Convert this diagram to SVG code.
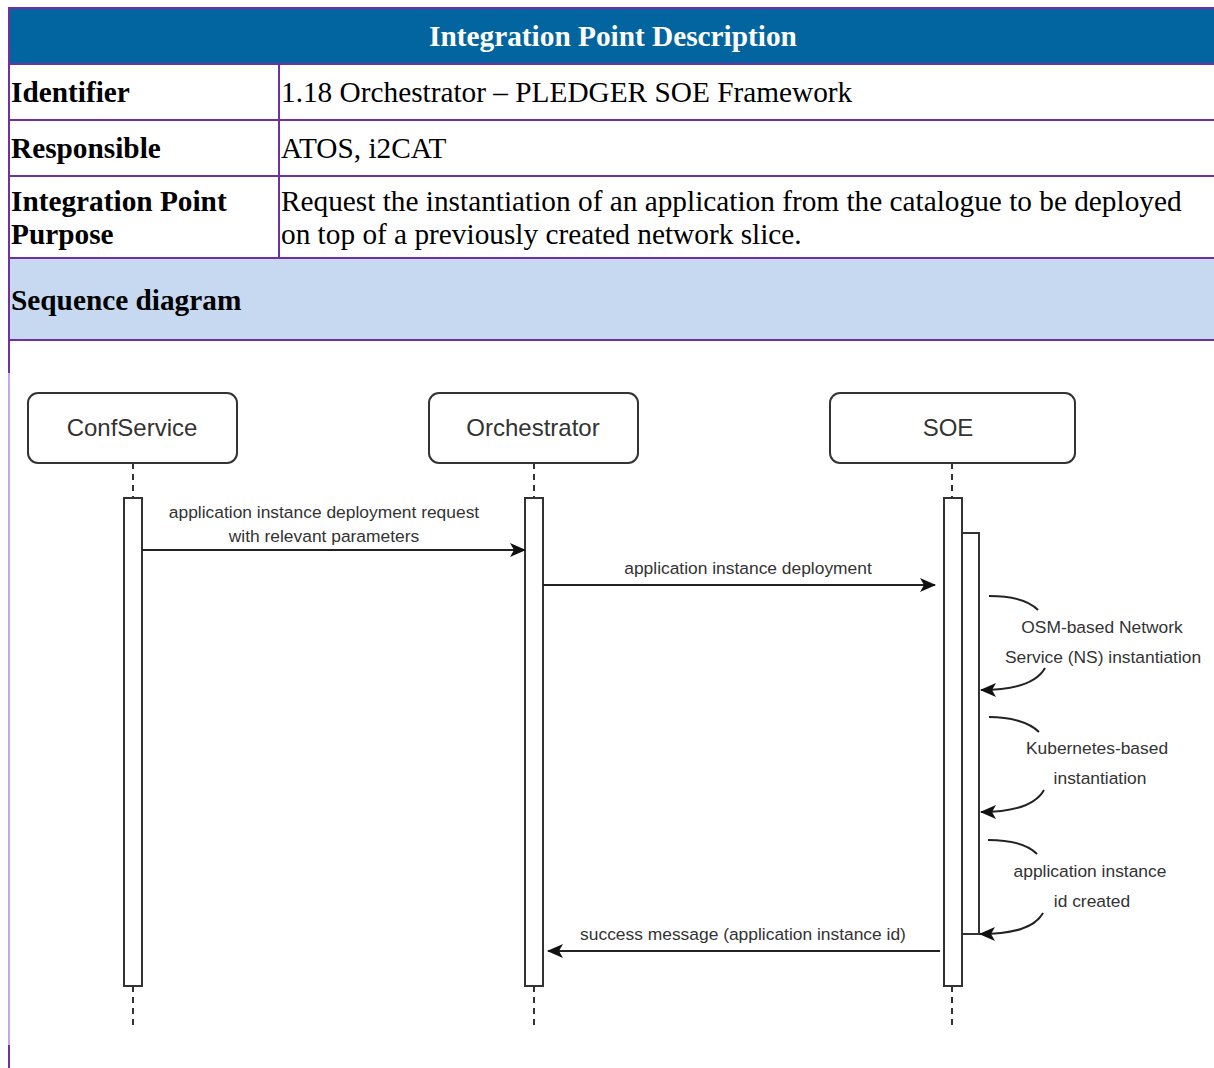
<svg xmlns="http://www.w3.org/2000/svg" width="1214" height="1068" viewBox="0 0 1214 1068">
<style>
.tb{font-family:"Liberation Serif","Times New Roman",serif;font-size:29.3px;fill:#000}
.b{font-weight:bold}
.grid{stroke:#7030A0;stroke-width:2;fill:none}
.box{fill:#fff;stroke:#333;stroke-width:2}
.act{fill:#fff;stroke:#333;stroke-width:2}
.pn{font-family:"Liberation Sans",Arial,sans-serif;font-size:24px;fill:#333;text-anchor:middle}
.lb{font-family:"Liberation Sans",Arial,sans-serif;font-size:17.4px;fill:#333;text-anchor:middle}
.life{stroke:#333;stroke-width:2;stroke-dasharray:6,5;fill:none}
.msg{stroke:#222;stroke-width:2;fill:none}
</style>
<defs>
<marker id="arr" viewBox="0 0 16 14" refX="15" refY="7" markerWidth="16" markerHeight="14" markerUnits="userSpaceOnUse" orient="auto">
<path d="M0,0 L16,7 L0,14 L4,7 z" fill="#111"/>
</marker>
</defs>
<rect width="1214" height="1068" fill="#fff"/>
<g id="table">
<rect x="9" y="8" width="1205" height="56" fill="#0265A0"/>
<rect x="9" y="258" width="1205" height="82" fill="#C6D9F0"/>
<line class="grid" x1="9" y1="8" x2="1214" y2="8"/>
<line class="grid" x1="9" y1="64" x2="1214" y2="64"/>
<line class="grid" x1="9" y1="120" x2="1214" y2="120"/>
<line class="grid" x1="9" y1="176" x2="1214" y2="176"/>
<line class="grid" x1="9" y1="258" x2="1214" y2="258"/>
<line class="grid" x1="9" y1="340" x2="1214" y2="340"/>
<line class="grid" x1="279" y1="64" x2="279" y2="258"/>
<line class="grid" x1="9" y1="7" x2="9" y2="373"/>
<line x1="9" y1="373" x2="9" y2="1045" stroke="#C8A8E0" stroke-width="2"/>
<line class="grid" x1="9" y1="1045" x2="9" y2="1068"/>
<text class="tb b" x="613" y="46" style="fill:#fff" text-anchor="middle">Integration Point Description</text>
<text class="tb b" x="11" y="102">Identifier</text>
<text class="tb" x="281" y="102">1.18 Orchestrator – PLEDGER SOE Framework</text>
<text class="tb b" x="11" y="158">Responsible</text>
<text class="tb" x="281" y="158">ATOS, i2CAT</text>
<text class="tb b" x="11" y="211">Integration Point</text>
<text class="tb b" x="11" y="244">Purpose</text>
<text class="tb" x="281" y="211">Request the instantiation of an application from the catalogue to be deployed</text>
<text class="tb" x="281" y="244">on top of a previously created network slice.</text>
<text class="tb b" x="11" y="310">Sequence diagram</text>
</g>
<g id="ConfService">
<rect class="box" x="28" y="393" width="209" height="70" rx="10"/>
<text class="pn" x="132" y="436">ConfService</text>
<line class="life" x1="133" y1="463" x2="133" y2="498"/>
<rect class="act" x="124" y="498" width="18" height="488"/>
<line class="life" x1="133" y1="986" x2="133" y2="1025"/>
</g>
<g id="Orchestrator">
<rect class="box" x="429" y="393" width="209" height="70" rx="10"/>
<text class="pn" x="533" y="436">Orchestrator</text>
<line class="life" x1="534" y1="463" x2="534" y2="498"/>
<rect class="act" x="525" y="498" width="18" height="488"/>
<line class="life" x1="534" y1="986" x2="534" y2="1025"/>
</g>
<g id="SOE">
<rect class="box" x="830" y="393" width="245" height="70" rx="10"/>
<text class="pn" x="948" y="436">SOE</text>
<line class="life" x1="952" y1="463" x2="952" y2="498"/>
<rect class="act" x="944" y="498" width="18" height="488"/>
<rect class="act" x="962" y="533" width="17" height="401"/>
<line class="life" x1="952" y1="986" x2="952" y2="1025"/>
</g>
<g id="connectors">
<line class="msg" x1="142" y1="550" x2="525" y2="550" marker-end="url(#arr)"/>
<text class="lb" x="324" y="518">application instance deployment request</text>
<text class="lb" x="324" y="542">with relevant parameters</text>
<line class="msg" x1="543" y1="585" x2="935" y2="585" marker-end="url(#arr)"/>
<text class="lb" x="748" y="574">application instance deployment</text>
<line class="msg" x1="940" y1="951" x2="548" y2="951" marker-end="url(#arr)"/>
<text class="lb" x="743" y="940">success message (application instance id)</text>
<path class="msg" d="M989,596 C1010,596 1028,600 1038,610"/>
<path class="msg" d="M1045,668 C1036,684 1012,690 981,690" marker-end="url(#arr)"/>
<text class="lb" x="1102" y="633">OSM-based Network</text>
<text class="lb" x="1103" y="663">Service (NS) instantiation</text>
<path class="msg" d="M989,717 C1010,717 1029,722 1039,732"/>
<path class="msg" d="M1044,790 C1035,806 1012,812 981,812" marker-end="url(#arr)"/>
<text class="lb" x="1097" y="754">Kubernetes-based</text>
<text class="lb" x="1100" y="784">instantiation</text>
<path class="msg" d="M988,840 C1009,840 1027,844 1037,854"/>
<path class="msg" d="M1043,913 C1034,929 1011,934 980,934" marker-end="url(#arr)"/>
<text class="lb" x="1090" y="877">application instance</text>
<text class="lb" x="1092" y="907">id created</text>
</g>
</svg>
